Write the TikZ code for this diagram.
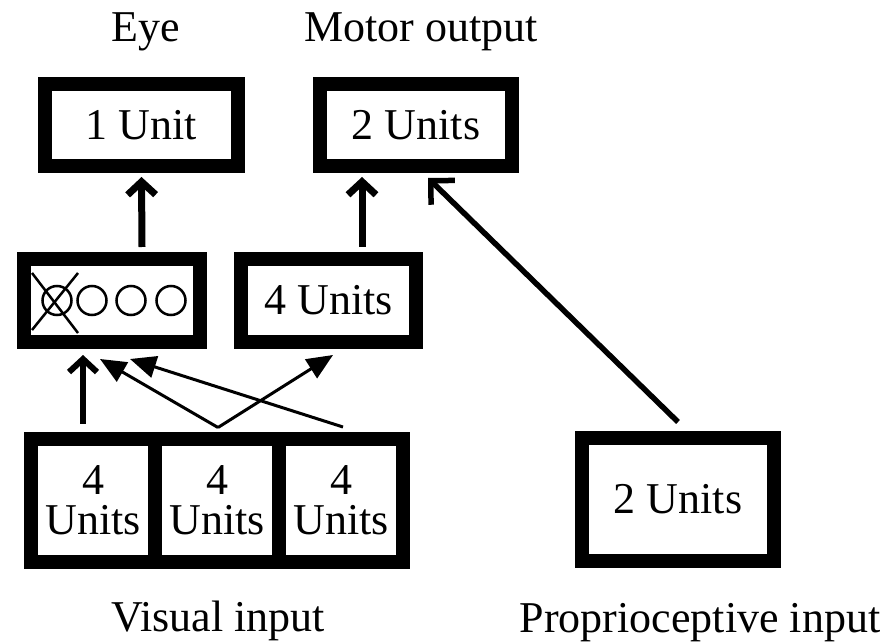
\documentclass[tikz,border=0pt]{standalone}
\usepackage{fontspec}
\setmainfont{Liberation Serif}
\usetikzlibrary{arrows.meta}

\begin{document}
\begin{tikzpicture}[x=1pt,y=-1pt,font=\fontsize{44}{40}\selectfont]
      \useasboundingbox (0,0) rectangle (891,644);
      \begin{scope}[every node/.style={draw,line width=14pt,inner sep=0pt,outer sep=0pt,align=center}]
        \node[minimum width=193pt,minimum height=82pt] (1) at (141.5,125) {1 Unit};
        \node[minimum width=192pt,minimum height=82pt] (2) at (416,125) {2 Units};
        \node[minimum width=176pt,minimum height=83pt] (3) at (112,300.5) {};
        \node[minimum width=175pt,minimum height=83pt] (4) at (328.5,300.5) {4 Units};
        \node[minimum width=124pt,minimum height=123pt] (5) at (93,500) {4\\Units};
        \node[minimum width=124pt,minimum height=123pt] (6) at (217,500) {4\\Units};
        \node[minimum width=124pt,minimum height=123pt] (7) at (341,500) {4\\Units};
        \node[minimum width=192pt,minimum height=123pt] (8) at (678,499.5) {2 Units};
      \end{scope}
      \begin{scope}[every node/.style={anchor=base}]
        \node (eye) at (145.5,42) {Eye};
        \node (motor) at (421,42) {Motor output};
        \node (visual) at (218,631) {Visual input};
        \node (proprio) at (700,632) {Proprioceptive input};
      \end{scope}
      \begin{scope}[shift={(3.center)},line width=2.5pt]
        \draw (-55,0) circle (14.5);
        \draw (-20,0) circle (14.5);
        \draw (19,0) circle (14.5);
        \draw (59,0) circle (14.5);
        \draw (-80,-27.5) -- (-34,32.5);
        \draw (-34,-27.5) -- (-80,29.5);
      \end{scope}
      \begin{scope}[every edge/.style={draw,line width=7pt,-{Straight Barb[length=13pt,width=28pt]}}]
        \path ([xshift=30pt,yshift=12pt]3.north) edge ([yshift=-11pt]1.south);
        \path ([xshift=33.5pt,yshift=12pt]4.north) edge ([xshift=-54pt,yshift=-11pt]2.south);
        \path ([xshift=-10pt,yshift=15pt]5.north) edge[line width=6pt] ([xshift=-29pt,yshift=-13pt]3.south);
        \path ([yshift=16pt]8.north) edge[line width=5.5pt,-{Straight Barb[length=17pt,width=34pt]}] ([xshift=12pt,yshift=-12pt]2.south);
      \end{scope}
      \begin{scope}[every edge/.style={draw,line width=3pt,-{Triangle[length=26pt,width=22pt]}}]
        \path ([xshift=1pt,yshift=11pt]6.north) edge ([xshift=-12pt,yshift=-17pt]3.south);
        \path ([xshift=1pt,yshift=11pt]6.north) edge ([xshift=4.5pt,yshift=-13pt]4.south);
        \path ([xshift=2pt,yshift=11.5pt]7.north) edge ([xshift=18pt,yshift=-17pt]3.south);
      \end{scope}
    \end{tikzpicture}
\end{document}
